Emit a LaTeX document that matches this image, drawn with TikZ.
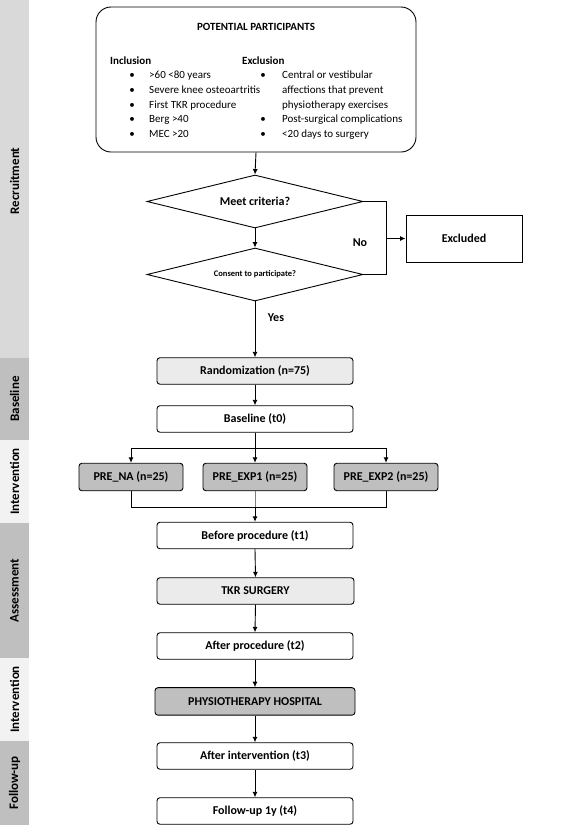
\documentclass[tikz,border=0pt]{standalone}
\usepackage{fontspec}
\setmainfont{Carlito}
\usetikzlibrary{arrows.meta,shapes.geometric}
\definecolor{sideA}{HTML}{D9D9D9}
\definecolor{sideB}{HTML}{BFBFBF}
\definecolor{sideC}{HTML}{F2F2F2}
\definecolor{fillLight}{HTML}{EBEBEB}
\definecolor{fillDark}{HTML}{BFBFBF}
\begin{document}
\begin{tikzpicture}[x=1pt,y=-1pt,
  line/.style={line width=0.9pt},
  arr/.style={line width=0.9pt,-{Latex[length=5.5pt,width=5pt]}},
  box/.style={draw,line width=0.9pt,rounded corners=3pt,minimum width=196pt,minimum height=26.5pt,inner sep=0pt,align=center,font=\fontsize{12}{14}\selectfont\bfseries},
  smallbox/.style={box,minimum width=104pt,minimum height=27.5pt,fill=fillDark},
  dia/.style={draw,line width=0.9pt,shape=diamond,aspect=4.08,inner sep=0pt,minimum width=216pt,minimum height=53pt,font=\fontsize{12}{14}\selectfont\bfseries},
  side/.style={rotate=90,font=\fontsize{13}{15}\selectfont\bfseries,inner sep=0pt},
  tt/.style={inner sep=0pt,text height=8pt,text depth=2.5pt,font=\fontsize{11}{13}\selectfont},
  lbl/.style={inner sep=0pt,font=\fontsize{12}{14}\selectfont\bfseries}
]
\useasboundingbox (0,0) rectangle (567,825);
% sidebar
\fill[sideA] (0,0) rectangle (29,358);
\fill[sideB] (0,358) rectangle (29,440);
\fill[sideC] (0,440) rectangle (29,523);
\fill[sideB] (0,523) rectangle (29,658);
\fill[sideC] (0,658) rectangle (29,741);
\fill[sideB] (0,741) rectangle (29,825);
\node[side] (s1) at (14.5,181) {Recruitment};
\node[side] (s2) at (14.5,399) {Baseline};
\node[side] (s3) at (14.5,481.5) {Intervention};
\node[side] (s4) at (14.5,590.5) {Assessment};
\node[side] (s5) at (14.5,699.5) {Intervention};
\node[side] (s6) at (14.5,783) {Follow-up};
% top box
\node[draw,line width=0.9pt,rounded corners=15pt,minimum width=320pt,minimum height=145pt,inner sep=0pt] (top) at (256,79.5) {};
\node[lbl,font=\fontsize{11}{13}\selectfont\bfseries] (pp) at (256,27) {POTENTIAL PARTICIPANTS};
\node[tt,anchor=west,font=\fontsize{11}{13}\selectfont\bfseries] (inc) at (110,62) {Inclusion};
\node[tt,anchor=west,font=\fontsize{11}{13}\selectfont\bfseries] (exc0) at (242,62) {Exclusion};
\foreach \y/\t [count=\i] in {76/{>60 <80 years},91/{Severe knee osteoartritis},106/{First TKR procedure},120/{Berg >40},135/{MEC >20}}{
  \node[tt,anchor=center] (ib\i) at (132,\y) {•};
  \node[tt,anchor=west] (it\i) at (149,\y) {\t};
}
\node[tt,anchor=center] (eb1) at (263,76) {•};
\node[tt,anchor=west] (et1) at (282,76) {Central or vestibular};
\node[tt,anchor=west] (et2) at (282,91) {affections that prevent};
\node[tt,anchor=west] (et3) at (282,106) {physiotherapy exercises};
\node[tt,anchor=center] (eb4) at (263,120) {•};
\node[tt,anchor=west] (et4) at (282,120) {Post-surgical complications};
\node[tt,anchor=center] (eb5) at (263,135) {•};
\node[tt,anchor=west] (et5) at (282,135) {<20 days to surgery};
% diamonds
\node[dia] (d1) at (255,201.5) {Meet criteria?};
\node[dia,font=\fontsize{8.5}{10}\selectfont\bfseries] (d2) at (255,274.5) {Consent to participate?};
\node[draw,line width=0.9pt,minimum width=116pt,minimum height=47pt,inner sep=0pt,font=\fontsize{12}{14}\selectfont\bfseries] (ex) at (464,238.5) {Excluded};
% boxes
\node[box,fill=fillLight] (rand) at (255,371) {Randomization (n=75)};
\node[box] (base) at (255,419) {Baseline (t0)};
\node[smallbox] (pna) at (131,477) {PRE\_NA (n=25)};
\node[smallbox] (pe1) at (255,477) {PRE\_EXP1 (n=25)};
\node[smallbox] (pe2) at (386,477) {PRE\_EXP2 (n=25)};
\node[box] (bef) at (255,535.5) {Before procedure (t1)};
\node[box,fill=fillLight,minimum width=197pt] (tkr) at (255.5,591) {TKR SURGERY};
\node[box] (aft) at (255,646) {After procedure (t2)};
\node[box,fill=fillDark,minimum width=200pt,minimum height=27.5pt] (phy) at (255,701.4) {PHYSIOTHERAPY HOSPITAL};
\node[box] (inter) at (255,756) {After intervention (t3)};
\node[box] (fol) at (255,811) {Follow-up 1y (t4)};
% connectors
\draw[arr] (top.south) -- (d1.north);
\draw[arr] (d1.south) -- (d2.north);
\coordinate (nx) at (386,238.5);
\draw[line] (d1.east) -| (nx |- d2.east) -- (d2.east);
\draw[arr] (nx) -- (ex.west);
\node[lbl] (no) at (360,243) {No};
\draw[arr] (d2.south) -- (rand.north);
\node[lbl] (yes) at (276,318) {Yes};
\draw[arr] (rand.south) -- (base.north);
\coordinate (br) at (255,448);
\draw[line] (base.south) -- (br);
\draw[arr] (br) -- (pe1.north);
\draw[arr] (br) -| (pna.north);
\draw[arr] (br) -| (pe2.north);
\coordinate (mg) at (255,507);
\draw[line] (pna.south) |- (mg);
\draw[line] (pe2.south) |- (mg);
\draw[line,gray] (pe1.south) -- (mg);
\draw[arr] (mg) -- (bef.north);
\draw[arr] (bef.south) -- (tkr.north);
\draw[arr] (tkr.south) -- (aft.north);
\draw[arr] (aft.south) -- (phy.north);
\draw[arr] (phy.south) -- (inter.north);
\draw[arr] (inter.south) -- (fol.north);
\end{tikzpicture}
\end{document}
